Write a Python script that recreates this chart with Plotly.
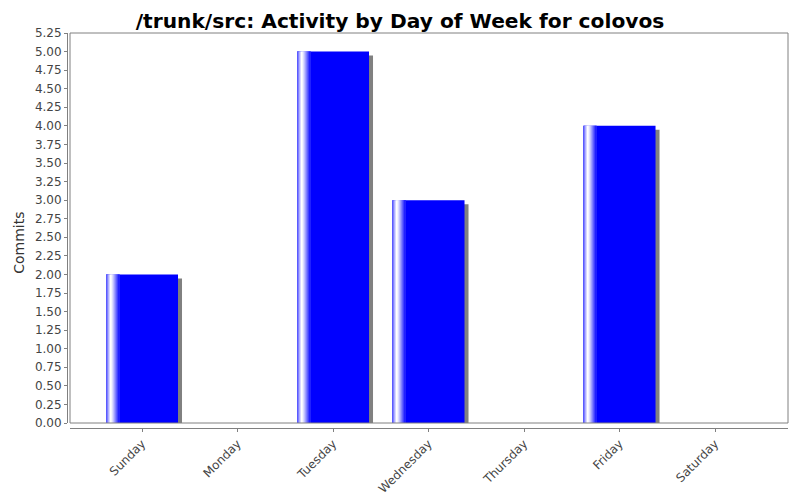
import plotly.graph_objects as go

# Dados
dias = ["Sunday", "Monday", "Tuesday", "Wednesday", "Thursday", "Friday", "Saturday"]
commits = [2, 0, 5, 3, 0, 4, 0]

titulo = "/trunk/src: Activity by Day of Week for colovos"
y_ticks = [i * 0.25 for i in range(22)]

# Escala aproximada (pixels por unidade)
px_x = 95.5
px_y = 390 / 5.25
larg = 72 / px_x
inicio = -larg / 2

fig = go.Figure()

# Sombra das barras
sombra = [max(v - 4 / px_y, 0) for v in commits]
fig.add_trace(go.Bar(x=dias, y=sombra, offset=inicio + 4 / px_x, width=larg,
                     marker=dict(color="#808080", line=dict(width=0)),
                     hoverinfo="skip"))

# Barra principal
fig.add_trace(go.Bar(x=dias, y=commits, offset=inicio, width=larg,
                     marker=dict(color="#0000ff", line=dict(width=0)),
                     hovertemplate="%{x}: %{y}<extra></extra>"))

# Faixas do gradiente (brilho perto da borda esquerda)
faixas = ["#5a5aff", "#8080ff", "#b0b0ff", "#d8d8ff", "#ffffff", "#f4f4ff",
          "#dcdcff", "#c0c0ff", "#a0a0ff", "#8080ff", "#6060ff", "#4040ff", "#2020ff"]
for i, cor in enumerate(faixas):
    fig.add_trace(go.Bar(x=dias, y=commits, offset=inicio + i / px_x, width=1.05 / px_x,
                         marker=dict(color=cor, line=dict(width=0)),
                         hoverinfo="skip"))

# a página tem margem de 8px no body, por isso a figura é 792x492
fig.update_layout(
    width=792, height=492,
    barmode="overlay",
    showlegend=False,
    paper_bgcolor="white",
    plot_bgcolor="white",
    margin=dict(l=59, r=12, t=25, b=72, autoexpand=False),
    title=dict(text=titulo, x=392 / 792, xanchor="center", xref="container",
               y=1 - 13 / 492, yanchor="middle",
               font=dict(family="DejaVu Sans", size=20.2, color="black", weight="bold")),
    xaxis=dict(
        domain=[3 / 721, 1],
        anchor="free", position=0,
        automargin=False,
        range=[-0.754, 6.764],
        showgrid=False, zeroline=False,
        showline=True, linecolor="#808080", linewidth=1,
        ticks="outside", ticklen=3, tickcolor="#808080",
        tickangle=-45,
        tickfont=dict(family="DejaVu Sans", size=12, color="#444444"),
    ),
    yaxis=dict(
        domain=[5 / 395, 1],
        anchor="free", position=0,
        automargin=False,
        range=[0, 5.25],
        tickvals=y_ticks, tickformat=".2f",
        showgrid=False, zeroline=False,
        showline=True, linecolor="#808080", linewidth=1,
        ticks="outside", ticklen=3, tickcolor="#808080",
        tickfont=dict(family="DejaVu Sans", size=12, color="#444444"),
    ),
    shapes=[dict(type="rect", xref="x domain", yref="y domain", x0=0, x1=1, y0=0, y1=1,
                 line=dict(color="#808080", width=1), layer="above")],
    annotations=[dict(text="Commits", xref="paper", yref="paper", x=-0.066, y=0.47,
                      xanchor="center", yanchor="middle", textangle=-90, showarrow=False,
                      font=dict(family="DejaVu Sans", size=14, color="#333333"))],
)

fig.write_html("out.html")
